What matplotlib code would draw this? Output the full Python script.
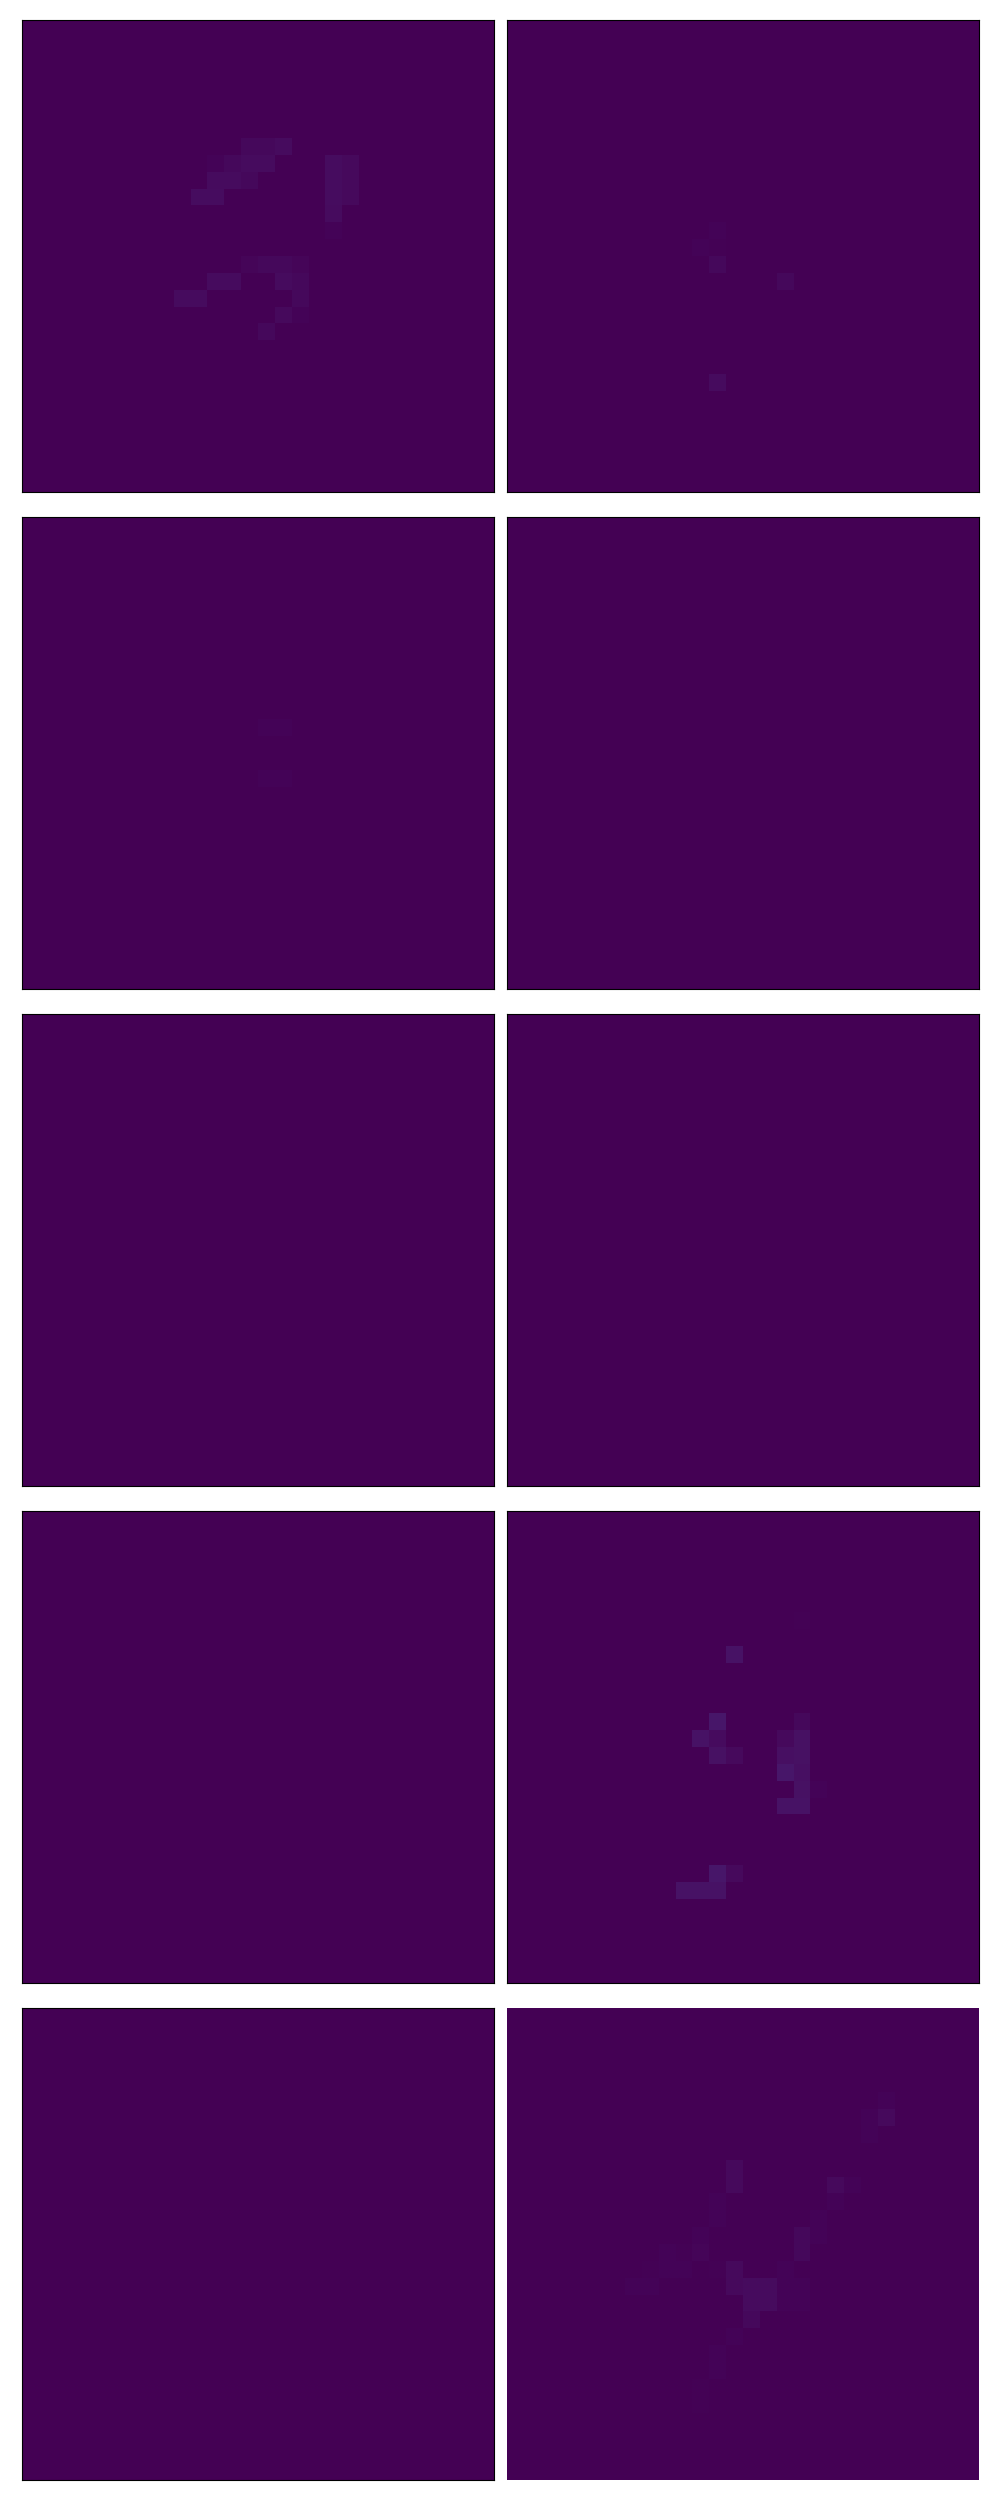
import numpy as np
import matplotlib
matplotlib.use("Agg")
import matplotlib.pyplot as plt

size = 28

# faint pixels of each 28x28 image: (row, col, value), everything else is 0
img0 = [(7, 13, 0.02), (7, 14, 0.02), (7, 15, 0.03),
        (8, 11, 0.01), (8, 12, 0.02), (8, 13, 0.03), (8, 14, 0.03), (8, 18, 0.035), (8, 19, 0.025),
        (9, 11, 0.03), (9, 12, 0.03), (9, 13, 0.02), (9, 18, 0.035), (9, 19, 0.025),
        (10, 10, 0.035), (10, 11, 0.035), (10, 18, 0.035), (10, 19, 0.025),
        (11, 18, 0.03), (12, 18, 0.01),
        (14, 13, 0.015), (14, 14, 0.02), (14, 15, 0.02), (14, 16, 0.015),
        (15, 11, 0.03), (15, 12, 0.03), (15, 15, 0.03), (15, 16, 0.02),
        (16, 9, 0.03), (16, 10, 0.03), (16, 16, 0.02),
        (17, 15, 0.025), (17, 16, 0.01), (18, 14, 0.02)]
img1 = [(12, 12, 0.01), (13, 11, 0.01), (13, 12, 0.005), (14, 12, 0.02),
        (15, 16, 0.02), (21, 12, 0.03)]
img2 = [(12, 14, 0.01), (12, 15, 0.008), (15, 14, 0.01), (15, 15, 0.008)]
img3 = []
img4 = []
img5 = []
img6 = []
img7 = [(6, 17, 0.005), (8, 13, 0.05),
        (12, 12, 0.06), (12, 17, 0.02),
        (13, 11, 0.05), (13, 12, 0.03), (13, 16, 0.025), (13, 17, 0.045),
        (14, 12, 0.045), (14, 13, 0.025), (14, 16, 0.04), (14, 17, 0.045),
        (15, 16, 0.06), (15, 17, 0.04),
        (16, 17, 0.045), (16, 18, 0.01),
        (17, 16, 0.05), (17, 17, 0.05),
        (21, 12, 0.06), (21, 13, 0.025),
        (22, 10, 0.05), (22, 11, 0.05), (22, 12, 0.05)]
img8 = []
img9 = [(5, 22, 0.01), (6, 21, 0.01), (6, 22, 0.025), (7, 21, 0.01),
        (9, 13, 0.025), (10, 13, 0.025), (10, 19, 0.025), (10, 20, 0.01),
        (11, 12, 0.01), (11, 19, 0.01), (12, 12, 0.01), (12, 18, 0.01),
        (13, 11, 0.01), (13, 17, 0.02), (13, 18, 0.01),
        (14, 9, 0.01), (14, 10, 0.005), (14, 11, 0.015), (14, 17, 0.02),
        (15, 8, 0.005), (15, 9, 0.01), (15, 10, 0.01), (15, 12, 0.005), (15, 13, 0.025), (15, 16, 0.01),
        (16, 7, 0.01), (16, 8, 0.01), (16, 13, 0.025), (16, 14, 0.03), (16, 15, 0.03),
        (16, 16, 0.01), (16, 17, 0.01),
        (17, 14, 0.03), (17, 15, 0.03), (17, 16, 0.01), (17, 17, 0.01),
        (18, 14, 0.02), (19, 13, 0.01), (20, 12, 0.01), (21, 12, 0.01),
        (22, 11, 0.005), (23, 11, 0.005)]

images = [img0, img1, img2, img3, img4, img5, img6, img7, img8, img9]


def to_array(pixels):
    a = np.zeros((size, size))
    for r, c, v in pixels:
        a[r, c] = v
    return a


fig, axes = plt.subplots(5, 2, figsize=(10, 25))
plt.subplots_adjust(left=0.021, right=0.98, top=0.992, bottom=0.008,
                    wspace=0.0253, hspace=0.053)

for i, ax in enumerate(axes.flat):
    ax.imshow(to_array(images[i]), cmap='viridis', vmin=0, vmax=1)
    ax.set_xticks([])
    ax.set_yticks([])

# the last panel is drawn without a frame
for s in axes[4, 1].spines.values():
    s.set_visible(False)

plt.savefig("out.png", dpi=100)
